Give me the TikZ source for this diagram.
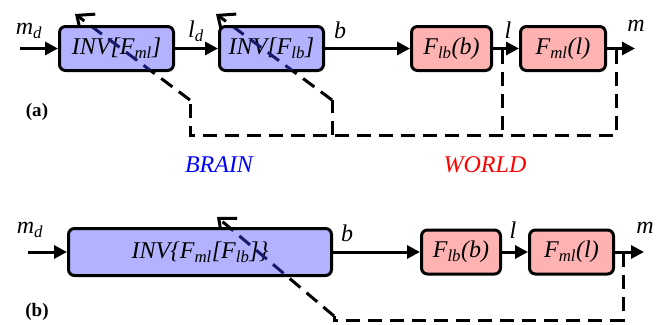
\documentclass[tikz,border=0pt]{standalone}
\usepackage{fontspec}
\setmainfont{Liberation Serif}
\usepackage{xcolor}
\usetikzlibrary{arrows.meta, positioning}

\definecolor{navy}{RGB}{25,25,110}

\begin{document}
\begin{tikzpicture}[
    x=1pt, y=-1pt,
    inv/.style={rectangle, rounded corners=6pt, draw=black, line width=3pt,
                fill=blue!30, minimum height=44pt, inner sep=0pt,
                font=\fontsize{24}{26}\selectfont\itshape},
    wld/.style={inv, fill=red!30},
    sig/.style={font=\fontsize{24}{26}\selectfont\itshape, inner sep=0pt},
    tag/.style={font=\fontsize{19}{21}\selectfont\bfseries, inner sep=0pt},
    fb/.style={line width=3pt, dash pattern=on 14pt off 8pt},
    tip/.style={-{Straight Barb[length=14pt,width=24pt]}},
    ->, >={Triangle[length=13pt,width=13pt]}, line width=3pt
  ]
  \useasboundingbox (0,0) rectangle (663,324);

  % feedback points (a)
  \coordinate (ta1) at (502,50);
  \coordinate (ta2) at (616,50);
  \coordinate (ca1) at (502,135);
  \coordinate (ca2) at (616,135);
  \coordinate (ca0) at (190,135);
  \coordinate (ca3) at (332,135);
  \coordinate (ka1) at (190,100);
  \coordinate (ka2) at (332,100);
  \coordinate (ha1) at (75,14);
  \coordinate (ha2) at (216,14);

  % feedback points (b)
  \coordinate (tb1) at (623,253);
  \coordinate (cb1) at (623,320);
  \coordinate (cb0) at (334,320);
  \coordinate (kb) at (334,316);
  \coordinate (hb) at (217,217);

  % dashed feedback, under the boxes
  \draw[fb, -] (ta1) -- (ca1);
  \draw[fb, -] (ta2) -- (ca2) -- (ca0) -- (ka1);
  \draw[fb, -] (ca3) -- (ka2);
  \draw[fb, tip] (ka1) -- (ha1);
  \draw[fb, tip] (ka2) -- (ha2);
  \draw[fb, -] (tb1) -- (cb1) -- (cb0) -- (kb);
  \draw[fb, tip] (kb) -- (hb);

  % (a) chain
  \node[inv, minimum width=114pt] (inva) at (116.5,48.5) {INV[F\textsubscript{ml}]};
  \node[inv, minimum width=104pt, right=43pt of inva] (invb) {INV[F\textsubscript{lb}]};
  \node[wld, minimum width=80pt, right=85pt of invb] (flba) {F\textsubscript{lb}(b)};
  \node[wld, minimum width=85pt, right=26pt of flba] (fmla) {F\textsubscript{ml}(l)};
  \coordinate (ina) at (20,48.5);
  \coordinate (outa) at (635,48.5);

  \draw (ina) -- (inva);
  \draw (inva) -- (invb);
  \draw (invb) -- (flba);
  \draw (flba) -- (fmla);
  \draw (fmla) -- (outa);

  % (b) chain
  \node[inv, minimum width=263pt, minimum height=47pt] (invc) at (200,252) {INV\{F\textsubscript{ml}[F\textsubscript{lb}]\}};
  \node[wld, minimum width=79pt, right=87pt of invc] (flbb) {F\textsubscript{lb}(b)};
  \node[wld, minimum width=84pt, right=26pt of flbb] (fmlb) {F\textsubscript{ml}(l)};
  \coordinate (inb) at (28,252);
  \coordinate (outb) at (644,252);

  \draw (inb) -- (invc);
  \draw (invc) -- (flbb);
  \draw (flbb) -- (fmlb);
  \draw (fmlb) -- (outb);

  % dashes seen through the brain boxes
  \begin{scope}
    \clip ([xshift=3pt,yshift=3pt]inva.south west) rectangle ([xshift=-3pt,yshift=-3pt]inva.north east);
    \draw[fb, -, navy] (ka1) -- (ha1);
  \end{scope}
  \begin{scope}
    \clip ([xshift=3pt,yshift=3pt]invb.south west) rectangle ([xshift=-3pt,yshift=-3pt]invb.north east);
    \draw[fb, -, navy] (ka2) -- (ha2);
  \end{scope}
  \begin{scope}
    \clip ([xshift=3pt,yshift=3pt]invc.south west) rectangle ([xshift=-3pt,yshift=-3pt]invc.north east);
    \draw[fb, -, navy] (kb) -- (hb);
  \end{scope}

  % signal labels
  \node[sig] (mda) at (29,31) {m\textsubscript{d}};
  \node[sig] (lda) at (196,31) {l\textsubscript{d}};
  \node[sig] (ba) at (340,30) {b};
  \node[sig] (la) at (508,30) {l};
  \node[sig] (ma) at (636,26) {m};
  \node[sig] (mdb) at (30,230) {m\textsubscript{d}};
  \node[sig] (bb) at (347,233) {b};
  \node[sig] (lb) at (513,230) {l};
  \node[sig] (mb) at (645,228) {m};

  % side names and tags
  \node[sig, text=blue] (brain) at (219,165) {BRAIN};
  \node[sig, text=red] (world) at (485,165) {WORLD};
  \node[tag] (taga) at (37,112) {(a)};
  \node[tag] (tagb) at (37,312) {(b)};
\end{tikzpicture}
\end{document}
